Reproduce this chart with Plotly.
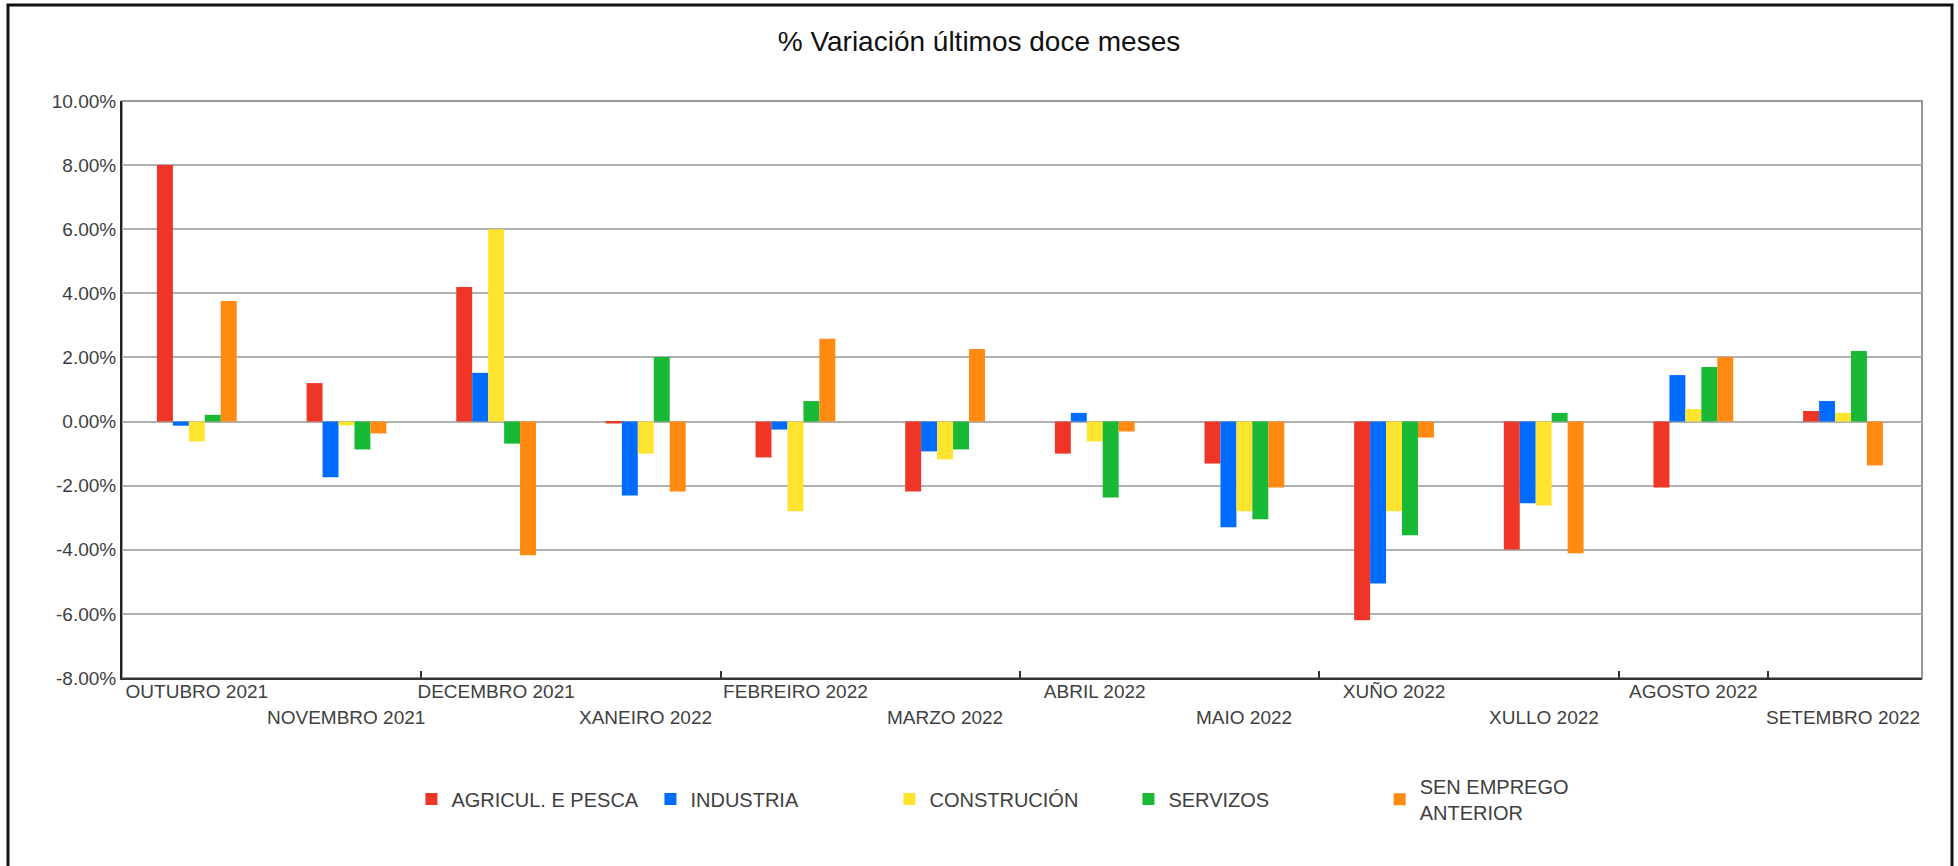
import plotly.graph_objects as go

# ---- data ----
months = ["OUTUBRO 2021", "NOVEMBRO 2021", "DECEMBRO 2021", "XANEIRO 2022",
          "FEBREIRO 2022", "MARZO 2022", "ABRIL 2022", "MAIO 2022",
          "XUÑO 2022", "XULLO 2022", "AGOSTO 2022", "SETEMBRO 2022"]

agricul_pesca = [8.00, 1.20, 4.20, -0.06, -1.12, -2.18, -1.00, -1.31, -6.20, -3.99, -2.06, 0.33]
industria = [-0.13, -1.74, 1.52, -2.31, -0.25, -0.93, 0.27, -3.30, -5.05, -2.55, 1.45, 0.64]
construcion = [-0.62, -0.12, 6.00, -1.00, -2.80, -1.18, -0.62, -2.80, -2.80, -2.62, 0.39, 0.27]
servizos = [0.21, -0.87, -0.69, 2.01, 0.64, -0.87, -2.37, -3.05, -3.55, 0.27, 1.70, 2.20]
sen_emprego = [3.76, -0.37, -4.17, -2.18, 2.58, 2.26, -0.31, -2.06, -0.50, -4.11, 2.01, -1.37]

series_names = ["AGRICUL. E PESCA", "INDUSTRIA", "CONSTRUCIÓN", "SERVIZOS", "SEN EMPREGO<br>ANTERIOR"]
series_values = [agricul_pesca, industria, construcion, servizos, sen_emprego]
series_colors = ["#EF3526", "#006CFF", "#FFE42F", "#18B935", "#FF8911"]
series_legends = ["legend", "legend", "legend", "legend", "legend2"]

y_tick_values = [-8, -6, -4, -2, 0, 2, 4, 6, 8, 10]
y_tick_labels = ["-8.00%", "-6.00%", "-4.00%", "-2.00%", "0.00%",
                 "2.00%", "4.00%", "6.00%", "8.00%", "10.00%"]

title_text = "% Variación últimos doce meses"

# category labels alternate on two rows: even ones as axis tick labels,
# odd ones one row lower
row1_labels = [m for i, m in enumerate(months) if i % 2 == 0]
row2_labels = [m for i, m in enumerate(months) if i % 2 == 1]

FONT = "Liberation Sans, Arial, Helvetica, sans-serif"

fig = go.Figure()
for name, vals, col, lg in zip(series_names, series_values, series_colors, series_legends):
    fig.add_trace(go.Bar(x=months, y=vals, name=name, legend=lg,
                         marker=dict(color=col, line=dict(width=0))))

W, H = 1958, 866
ML, MR, MT, MB = 122, 36, 101, 188

legend_common = dict(orientation="h", xanchor="left", yanchor="top",
                     entrywidth=194, entrywidthmode="pixels",
                     font=dict(family=FONT, size=20, color="#404040"),
                     traceorder="normal", valign="middle", bgcolor="rgba(0,0,0,0)")

tickfont = dict(family=FONT, size=19, color="#404040")

fig.update_layout(
    width=W, height=H,
    margin=dict(l=ML, r=MR, t=MT, b=MB),
    paper_bgcolor="white", plot_bgcolor="white",
    font=dict(family=FONT, size=19, color="#404040"),
    barmode="group", bargap=0.467, bargroupgap=0,
    title=dict(text=title_text, x=0.5, xref="container", xanchor="center",
               y=1 - 41 / H, yref="container", yanchor="middle",
               font=dict(family=FONT, size=28, color="#111111")),
    showlegend=True,
    legend=dict(x=0.1608, y=-0.176, **legend_common),
    legend2=dict(x=0.6987, y=-0.1536, **legend_common),
    xaxis=dict(type="category", categoryorder="array", categoryarray=months,
               tickmode="array", tickvals=row1_labels, ticktext=row1_labels,
               tickson="boundaries", ticks="inside", ticklen=7, tickwidth=1.5, tickcolor="#333333",
               ticklabelstandoff=-5,
               showline=True, linecolor="#333333", linewidth=2, showgrid=False,
               tickangle=0, tickfont=tickfont),
    yaxis=dict(range=[-8, 10], tickmode="array", tickvals=y_tick_values, ticktext=y_tick_labels,
               showgrid=True, gridcolor="#b0b0b0", gridwidth=2, zeroline=False,
               showline=True, linecolor="#222222", linewidth=2, ticks="",
               tickfont=tickfont),
    shapes=[
        # plot area border (top / right in gray)
        dict(type="rect", xref="paper", yref="paper", x0=0, x1=1, y0=0, y1=1,
             line=dict(color="#999999", width=2), layer="below"),
        # outer chart frame
        dict(type="rect", xref="paper", yref="paper",
             xsizemode="pixel", xanchor=0, x0=-114, x1=1830,
             ysizemode="pixel", yanchor=1, y0=-800, y1=96,
             line=dict(color="#111111", width=3), layer="above"),
    ],
)

for lab in row2_labels:
    fig.add_annotation(x=lab, xref="x", y=0, yref="paper", yanchor="middle", yshift=-39,
                       text=lab, showarrow=False, font=tickfont)

fig.write_html("out.html",
               config={"displayModeBar": False},
               post_script="document.body.style.margin='0';document.body.style.overflow='hidden';")
